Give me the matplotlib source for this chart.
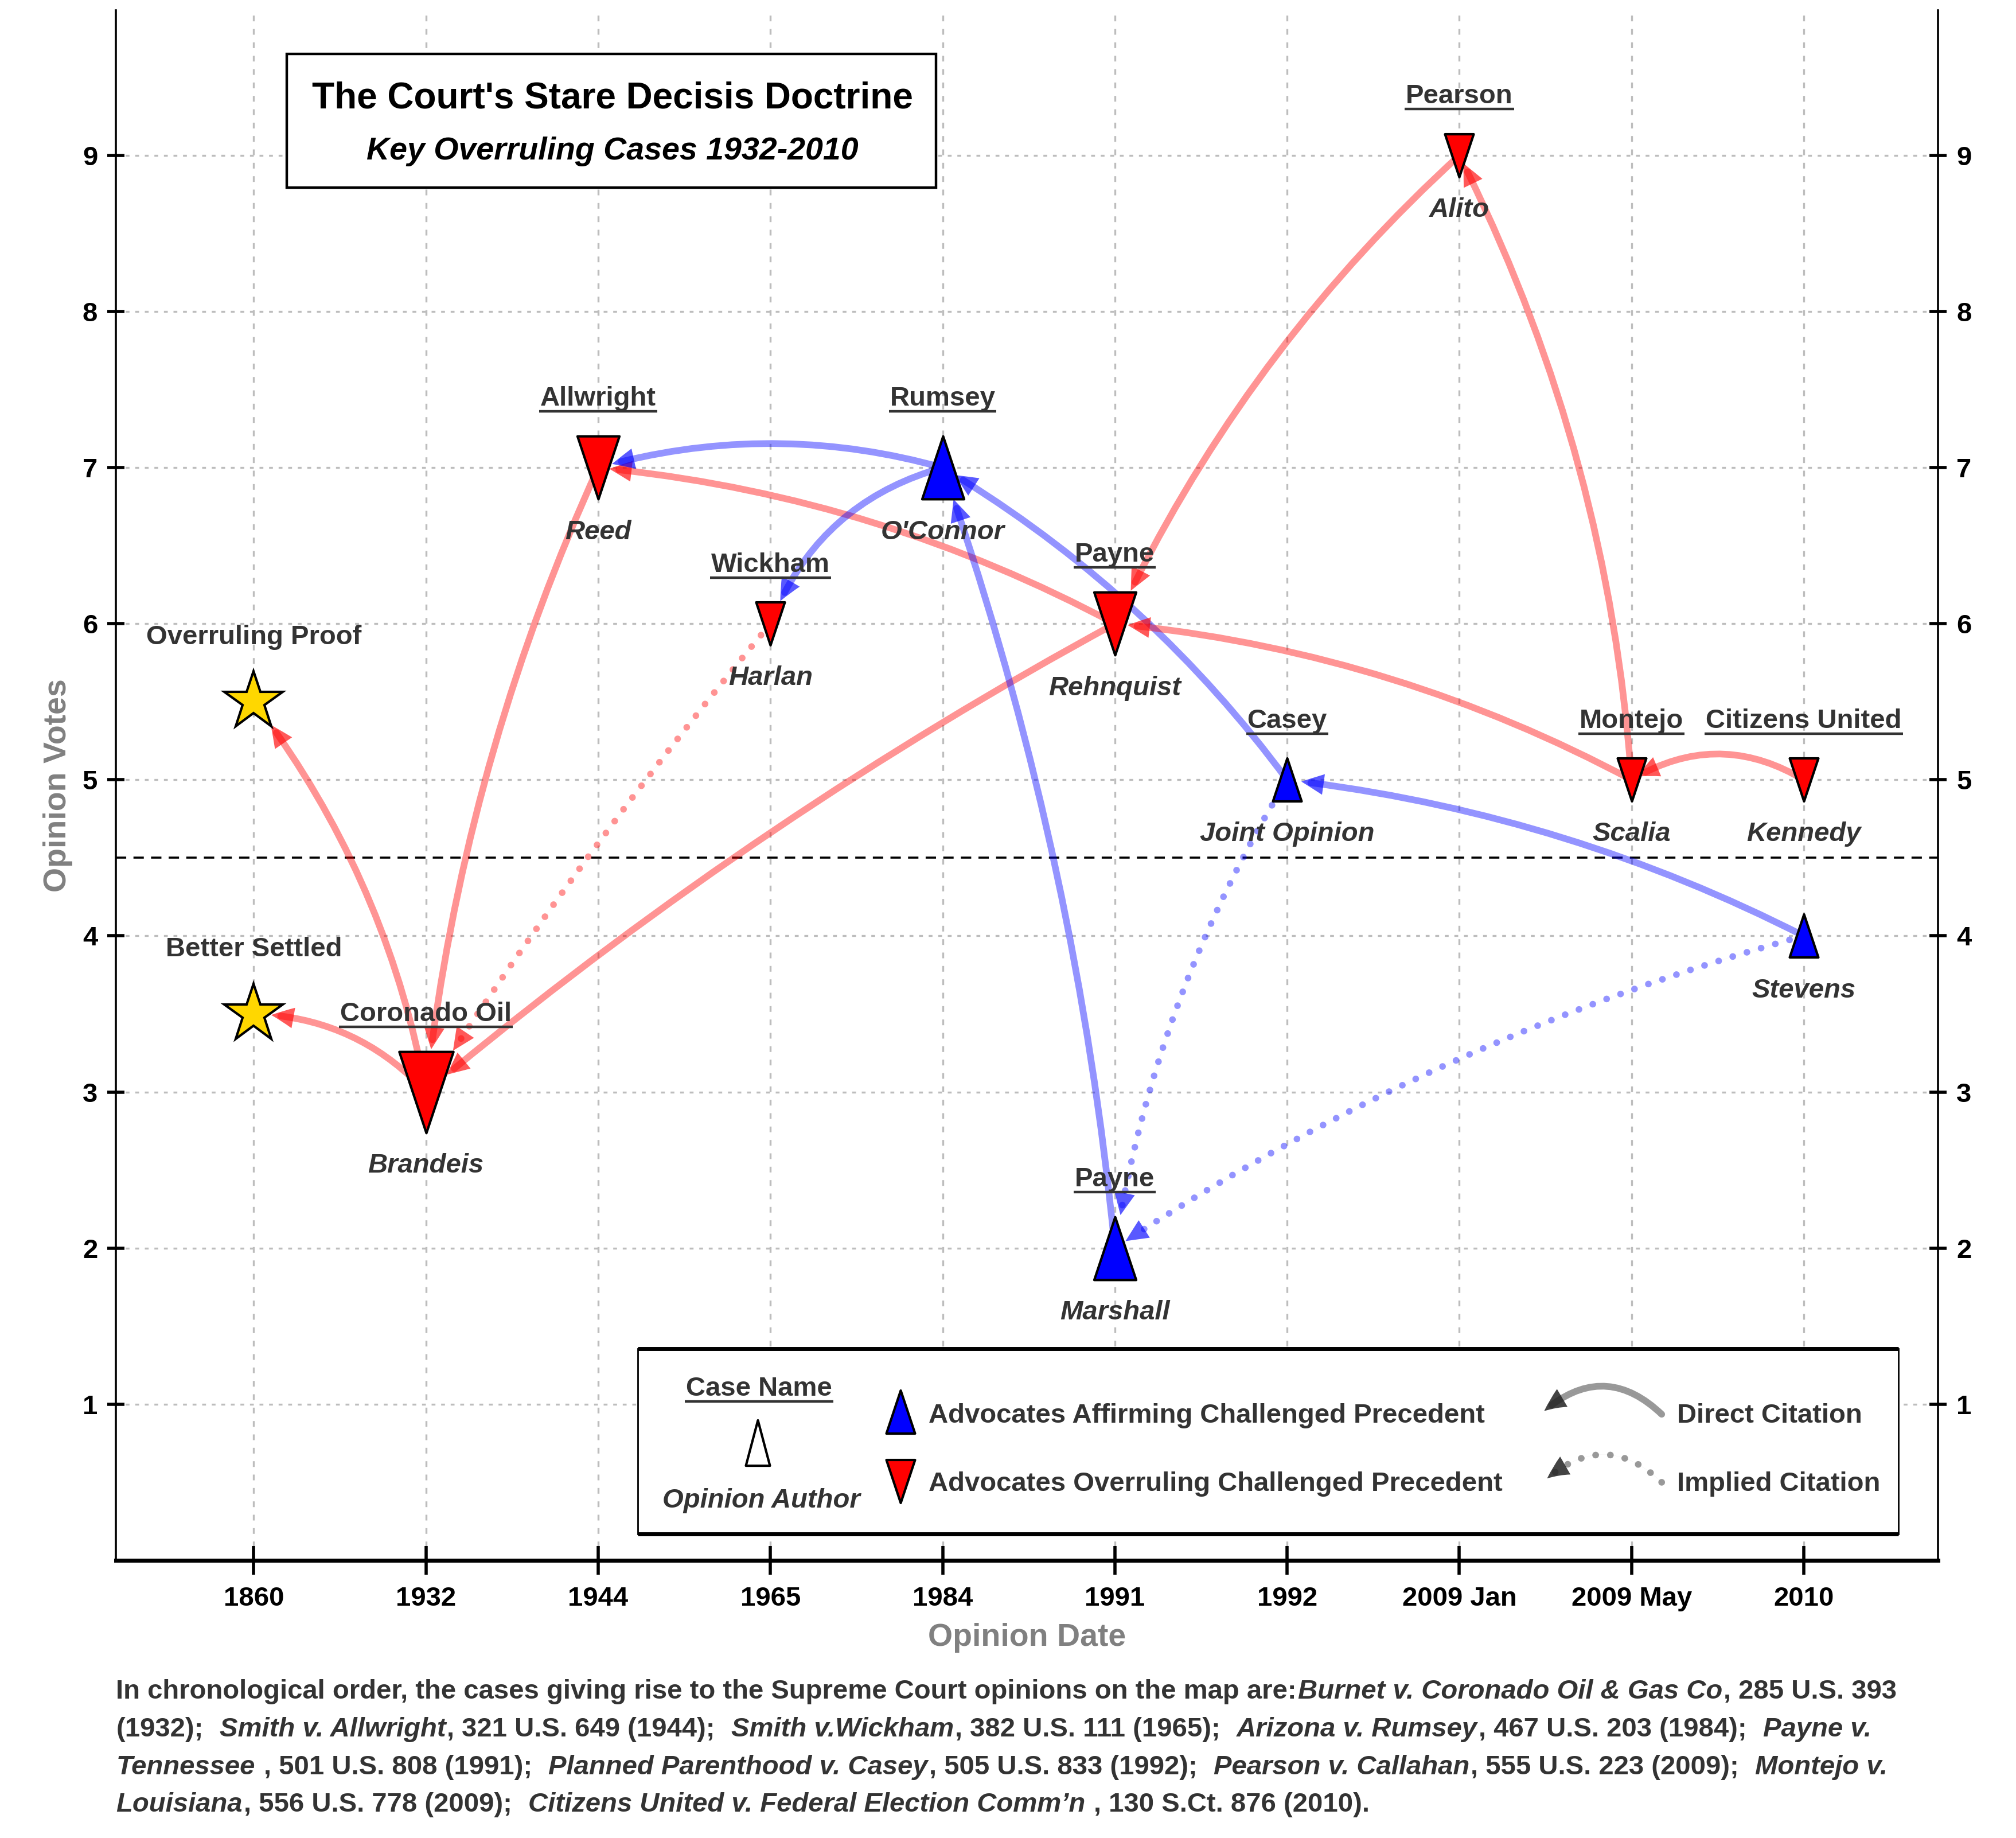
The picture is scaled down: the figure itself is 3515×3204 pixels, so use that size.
import matplotlib
matplotlib.use('Agg')
import matplotlib.pyplot as plt
from matplotlib.markers import MarkerStyle
from matplotlib.path import Path
from matplotlib.patches import FancyArrowPatch, Rectangle
from matplotlib.lines import Line2D

plt.rcParams['font.family'] = ['Liberation Sans', 'DejaVu Sans']
plt.rcParams['font.weight'] = 'bold'

INK = '#333333'
RED = '#ff0000'
BLUE = '#0000ff'
GOLD = '#ffd700'

# ---- data ----
date_labels = ['1860', '1932', '1944', '1965', '1984', '1991', '1992',
               '2009 Jan', '2009 May', '2010']

op_keys = ['brandeis', 'reed', 'harlan', 'oconnor', 'rehnquist', 'marshall',
           'joint', 'alito', 'scalia', 'kennedy', 'stevens']
op_date = [1, 2, 3, 4, 5, 5, 6, 7, 8, 9, 9]
op_votes = [3, 7, 6, 7, 6, 2, 5, 9, 5, 5, 4]
op_side = ['over', 'over', 'over', 'affirm', 'over', 'affirm', 'affirm',
           'over', 'over', 'over', 'affirm']
op_case = ['Coronado Oil', 'Allwright', 'Wickham', 'Rumsey', 'Payne', 'Payne',
           'Casey', 'Pearson', 'Montejo', 'Citizens United', '']
op_author = ['Brandeis', 'Reed', 'Harlan', "O'Connor", 'Rehnquist', 'Marshall',
             'Joint Opinion', 'Alito', 'Scalia', 'Kennedy', 'Stevens']
op_weight = [3, 2, 1, 2, 2, 2, 1, 1, 1, 1, 1]

star_keys = ['proof', 'settled']
star_date = [0, 0]
star_votes = [5.5, 3.5]
star_labels = ['Overruling Proof', 'Better Settled']

cite_from = ['brandeis', 'brandeis', 'reed', 'harlan', 'rehnquist', 'rehnquist',
             'oconnor', 'oconnor', 'marshall', 'joint', 'stevens', 'alito',
             'scalia', 'scalia', 'kennedy', 'joint', 'stevens']
cite_to = ['proof', 'settled', 'brandeis', 'brandeis', 'brandeis', 'reed',
           'reed', 'harlan', 'oconnor', 'oconnor', 'joint', 'rehnquist',
           'alito', 'rehnquist', 'scalia', 'marshall', 'marshall']
cite_implied = [False, False, False, True, False, False, False, False, False,
                False, False, False, False, False, False, True, True]
cite_bend = [0.12, 0.21, 0.08, 0.03, 0.05, 0.10, 0.14, 0.25, 0.06, 0.10, 0.09,
             0.10, 0.10, 0.10, 0.30, 0.10, 0.08]
cite_gap = [18, 11, 27, 31, 17, 7, 9, 15.5, 21, 9, 9, 23, 5.5, 8, 4, 21, 8]

footnote = [
    [("In chronological order, the cases giving rise to the Supreme Court opinions on the map are:", False, 0),
     ("Burnet v. Coronado Oil & Gas Co", True, 0), (", 285 U.S. 393", False, 0)],
    [("(1932);", False, 0), ("Smith v. Allwright", True, 2), (", 321 U.S. 649 (1944);", False, 0),
     ("Smith v.Wickham", True, 2), (", 382 U.S. 111 (1965);", False, 0),
     ("Arizona v. Rumsey", True, 2), (", 467 U.S. 203 (1984);", False, 0), ("Payne v.", True, 2)],
    [("Tennessee", True, 0), (", 501 U.S. 808 (1991);", False, 1),
     ("Planned Parenthood v. Casey", True, 2), (", 505 U.S. 833 (1992);", False, 0),
     ("Pearson v. Callahan", True, 2), (", 555 U.S. 223 (2009);", False, 0), ("Montejo v.", True, 2)],
    [("Louisiana", True, 0), (", 556 U.S. 778 (2009);", False, 0),
     ("Citizens United v. Federal Election Comm\u2019n", True, 2), (", 130 S.Ct. 876 (2010).", False, 1)],
]

SIZE = {1: 27, 2: 39.5, 3: 51}
STAR = 38.5
MEW = 1.5
LW = 4.2
DOTS = (0, (0.01, 2.2))
HEAD = 'simple,head_length=14,head_width=13,tail_width=0.01'


def tri(up, hw=2 / 3):
    if up:
        v = [(0, 1), (-hw, -1), (hw, -1), (0, 1)]
    else:
        v = [(0, -1), (-hw, 1), (hw, 1), (0, -1)]
    return MarkerStyle(Path(v, closed=True), joinstyle='miter')


fig = plt.figure(figsize=(17.58, 16.02), dpi=200)
ax = fig.add_axes([0.0575, 0.1511, 0.9036, 0.8433])
ax.set_xlim(-0.8, 9.78)
ax.set_ylim(0, 9.93)

ax.set_xticks(range(len(date_labels)))
ax.set_xticklabels(date_labels)
ax.set_yticks(range(1, 10))
ax.tick_params(axis='x', direction='inout', length=18, width=2, labelsize=17,
               pad=7.4, colors='black')
ax.tick_params(axis='y', direction='inout', length=11, width=2, labelsize=17,
               pad=6, colors='black', right=True, labelright=True)
for lab in ax.get_xticklabels() + ax.get_yticklabels():
    lab.set_fontweight('bold')
ax.spines['top'].set_visible(False)
ax.spines['left'].set_linewidth(1.3)
ax.spines['right'].set_linewidth(1.3)
ax.spines['bottom'].set_linewidth(2.5)

ax.set_axisbelow(True)
ax.grid(axis='x', color='#bdbdbd', lw=1.2, ls=(0, (3, 4)))
ax.grid(axis='y', color='#bdbdbd', lw=1.2, ls=(0, (2, 3)))
ax.axhline(4.5, color='black', lw=1.3, ls=(0, (5, 3.5)), zorder=1)

ax.set_xlabel('Opinion Date', fontsize=20, color='#808080', fontweight='bold', labelpad=7)
ax.set_ylabel('Opinion Votes', fontsize=20, color='#808080', fontweight='bold', labelpad=6)

pos = {}
for k, x, y in zip(op_keys, op_date, op_votes):
    pos[k] = (x, y)
for k, x, y in zip(star_keys, star_date, star_votes):
    pos[k] = (x, y)
side = dict(zip(op_keys, op_side))

# ---- citations ----
for src, dst, imp, rad, gap in zip(cite_from, cite_to, cite_implied, cite_bend, cite_gap):
    col = RED if side[src] == 'over' else BLUE
    cs = 'arc3,rad=%s' % rad
    body = FancyArrowPatch(pos[src], pos[dst], arrowstyle='-', connectionstyle=cs,
                           shrinkA=0, shrinkB=gap + 6, lw=LW, color=col, alpha=0.42,
                           capstyle='round', zorder=3)
    if imp:
        body.set_linestyle(DOTS)
    ax.add_patch(body)
    head = FancyArrowPatch(pos[src], pos[dst], arrowstyle=HEAD,
                           connectionstyle=cs, shrinkA=0, shrinkB=gap, mutation_scale=1,
                           fc=col, ec='none', lw=0, alpha=0.65, zorder=3)
    ax.add_patch(head)

# ---- opinions ----
case_texts = []
for k, x, y, s, case, auth, w in zip(op_keys, op_date, op_votes, op_side,
                                      op_case, op_author, op_weight):
    ms = SIZE[w]
    col = RED if s == 'over' else BLUE
    ax.plot([x], [y], ls='none', marker=tri(s == 'affirm'), ms=ms, mfc=col,
            mec='black', mew=MEW, zorder=5)
    half = ms / 2 + MEW / 2
    if case:
        t = ax.annotate(case, (x, y), xytext=(0, half + 18.4), textcoords='offset points',
                        ha='center', va='baseline', fontsize=17, color=INK,
                        fontweight='bold', zorder=6)
        case_texts.append(t)
    ax.annotate(auth, (x, y), xytext=(0, -(half + 24.3)), textcoords='offset points',
                ha='center', va='baseline', fontsize=17, color=INK,
                fontweight='bold', style='italic', zorder=6)

for x, y, lab in zip(star_date, star_votes, star_labels):
    ax.plot([x], [y], ls='none', marker=MarkerStyle('*', joinstyle='miter'), ms=STAR,
            mfc=GOLD, mec='black', mew=MEW, zorder=5)
    ax.annotate(lab, (x, y), xytext=(0, STAR / 2 + 17), textcoords='offset points',
                ha='center', va='baseline', fontsize=17, color=INK,
                fontweight='bold', zorder=6)

# ---- title box ----
ax.add_patch(Rectangle((0.0939, 0.8855), 0.3563, 0.0862, transform=ax.transAxes,
                       fc='white', ec='black', lw=1.6, zorder=7))
ax.text(0.2724, 0.9368, "The Court's Stare Decisis Doctrine", transform=ax.transAxes,
        ha='center', va='baseline', fontsize=23, fontweight='bold', color='black', zorder=8)
ax.text(0.2724, 0.9039, "Key Overruling Cases 1932-2010", transform=ax.transAxes,
        ha='center', va='baseline', fontsize=20, fontweight='bold', style='italic',
        color='black', zorder=8)

# ---- legend box ----
ax.add_patch(Rectangle((0.2865, 0.0171), 0.6916, 0.1194, transform=ax.transAxes,
                       fc='white', ec='black', lw=1.0, zorder=7))
for yy in (0.0171, 0.1365):
    ax.plot([0.2865, 0.9781], [yy, yy], transform=ax.transAxes, color='black',
            lw=2.5, zorder=8, solid_capstyle='butt')
lt = ax.text(0.3529, 0.1063, 'Case Name', transform=ax.transAxes, ha='center',
             va='baseline', fontsize=17, color=INK, fontweight='bold', zorder=8)
case_texts.append(lt)
ax.text(0.3543, 0.0341, 'Opinion Author', transform=ax.transAxes, ha='center',
        va='baseline', fontsize=17, color=INK, fontweight='bold', style='italic', zorder=8)
ax.plot([0.3522], [0.0760], transform=ax.transAxes, ls='none', marker=tri(True, 0.53),
        ms=28.5, mfc='white', mec='black', mew=MEW, zorder=8)
ax.plot([0.4305], [0.0959], transform=ax.transAxes, ls='none', marker=tri(True),
        ms=SIZE[1], mfc=BLUE, mec='black', mew=MEW, zorder=8)
ax.plot([0.4305], [0.0511], transform=ax.transAxes, ls='none', marker=tri(False),
        ms=SIZE[1], mfc=RED, mec='black', mew=MEW, zorder=8)
ax.text(0.4460, 0.0888, 'Advocates Affirming Challenged Precedent', transform=ax.transAxes,
        va='baseline', fontsize=17, color=INK, fontweight='bold', zorder=8)
ax.text(0.4460, 0.0449, 'Advocates Overruling Challenged Precedent', transform=ax.transAxes,
        va='baseline', fontsize=17, color=INK, fontweight='bold', zorder=8)
ax.text(0.8568, 0.0888, 'Direct Citation', transform=ax.transAxes,
        va='baseline', fontsize=17, color=INK, fontweight='bold', zorder=8)
ax.text(0.8568, 0.0449, 'Implied Citation', transform=ax.transAxes,
        va='baseline', fontsize=17, color=INK, fontweight='bold', zorder=8)
for (pa, pb), imp in zip([((0.8483, 0.0942), (0.7838, 0.0963)),
                          ((0.8483, 0.0503), (0.7854, 0.0528))], [False, True]):
    b = FancyArrowPatch(pa, pb, transform=ax.transAxes, arrowstyle='-',
                        connectionstyle='arc3,rad=0.45', shrinkA=0, shrinkB=6,
                        lw=LW, color='#999999', capstyle='round', zorder=8)
    if imp:
        b.set_linestyle(DOTS)
    ax.add_patch(b)
    ax.add_patch(FancyArrowPatch(pa, pb, transform=ax.transAxes, arrowstyle=HEAD,
                                 connectionstyle='arc3,rad=0.45', shrinkA=0, shrinkB=0,
                                 mutation_scale=1, fc='#222222', ec='none', lw=0,
                                 alpha=0.85, zorder=8))

# ---- underlines and footnote (need a renderer) ----
fig.canvas.draw()
r = fig.canvas.get_renderer()
inv = fig.transFigure.inverted()
for t in case_texts:
    bb = t.get_window_extent(r)
    d = r.get_text_width_height_descent('lp', t.get_fontproperties(), ismath=False)[2]
    yb = bb.y0 + d - 10
    (x0, y0), (x1, _) = inv.transform([(bb.x0 - 2, yb), (bb.x1 + 2, yb)])
    fig.add_artist(Line2D([x0, x1], [y0, y0], color=INK, lw=1.6, solid_capstyle='butt'))

W = fig.bbox.width
probe = fig.text(0, 0, 'a a', fontsize=17, fontweight='bold')
w_sp = probe.get_window_extent(r).width
probe.set_text('aa')
w_sp -= probe.get_window_extent(r).width
probe.remove()

baselines = [0.0758, 0.0553, 0.0348, 0.0143]
for yb, parts in zip(baselines, footnote):
    xp = 0.0575 * W
    for txt, ital, nsp in parts:
        xp += nsp * w_sp
        t = fig.text(xp / W, yb, txt, fontsize=17, fontweight='bold',
                     style='italic' if ital else 'normal', color=INK,
                     ha='left', va='baseline')
        xp = t.get_window_extent(r).x1 + 2

fig.savefig('out.png', dpi=200)
